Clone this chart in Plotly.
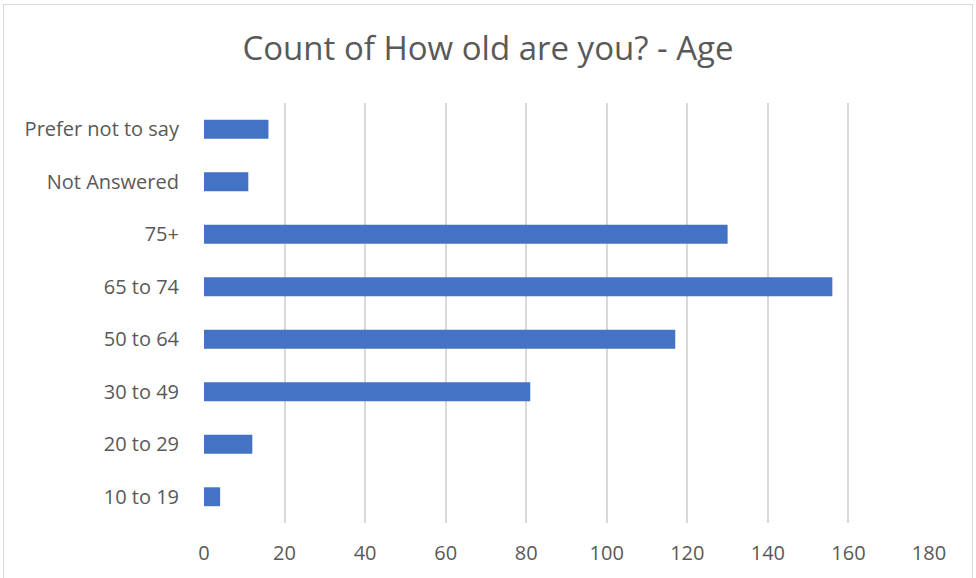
import plotly.graph_objects as go

categories = ["10 to 19", "20 to 29", "30 to 49", "50 to 64", "65 to 74", "75+", "Not Answered", "Prefer not to say"]
counts = [4, 12, 81, 117, 156, 130, 11, 16]
x_ticks = [0, 20, 40, 60, 80, 100, 120, 140, 160, 180]

W, H = 976, 578
L, R, T, B = 204, 47, 103, 55
pw, ph = W - L - R, H - T - B

fig = go.Figure(go.Bar(
    x=counts, y=categories, orientation="h",
    marker=dict(color="#4472c4", line=dict(width=0)),
))

def px_to_paper_x(px):
    return (px - L) / pw

def px_to_paper_y(py):
    return (H - B - py) / ph

fig.update_layout(
    width=W, height=H,
    margin=dict(l=L, r=R, t=T, b=B),
    paper_bgcolor="white", plot_bgcolor="white",
    bargap=0.64,
    showlegend=False,
    font=dict(family="Open Sans", color="#595959", size=20),
    title=dict(text="Count of How old are you? - Age", x=0.5, xanchor="center",
               y=1 - 48 / H, yanchor="middle",
               font=dict(family="Open Sans", size=33, color="#595959")),
    xaxis=dict(range=[0, 180], tickvals=x_ticks, showgrid=True, gridcolor="#d9d9d9",
               gridwidth=1.5, zeroline=False, showline=False, ticks="",
               tickfont=dict(size=20, color="#595959"), ticklabelstandoff=16),
    yaxis=dict(categoryorder="array", categoryarray=categories, showgrid=False,
               zeroline=False, showline=False, ticks="",
               tickfont=dict(size=20, color="#595959"), ticklabelstandoff=24),
    shapes=[dict(type="rect", xref="paper", yref="paper",
                 x0=px_to_paper_x(3.5), x1=px_to_paper_x(972.5),
                 y0=px_to_paper_y(590), y1=px_to_paper_y(4.5),
                 line=dict(color="#d9d9d9", width=1), fillcolor="rgba(0,0,0,0)", layer="below")],
)

fig.write_html("out.html", config={"displayModeBar": False},
               post_script="document.body.style.margin='0';document.body.style.padding='0';")
